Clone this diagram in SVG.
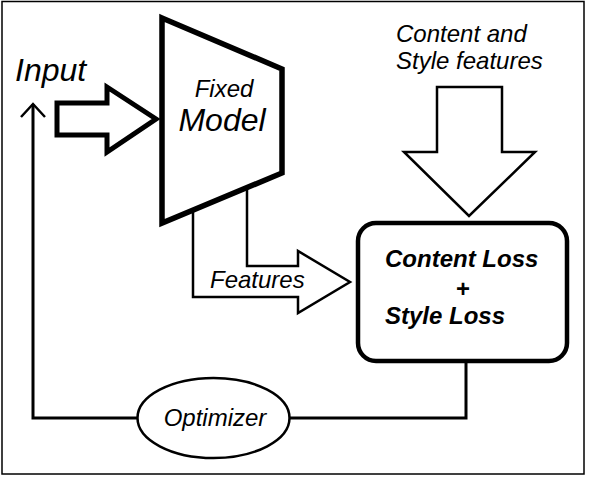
<svg xmlns="http://www.w3.org/2000/svg" width="606" height="488" viewBox="0 0 606 488">
<style>
.t{font-family:"Liberation Sans",Arial,sans-serif;font-style:italic;fill:#000;}
.ln{fill:none;stroke:#000;stroke-width:3;stroke-linejoin:miter;}
.blk{fill:#fff;stroke:#000;stroke-linejoin:miter;}
</style>
<rect width="606" height="488" fill="#fff"/>
<rect x="2" y="1.5" width="582" height="472.5" fill="none" stroke="#000" stroke-width="1.5"/>
<g id="connectors">
<polyline class="ln" points="466,362 466,418 290,418"/>
<polyline class="ln" points="137,418 33,418 33,104"/>
<polyline fill="none" stroke="#000" stroke-width="2.5" points="21,117 33,104 45,117"/>
<path class="blk" stroke-width="2.5" d="M193,210 L193,297 L298,297 L298,313 L350,282 L298,251 L298,266 L247,266 L247,188"/>
</g>
<g id="input">
<text class="t" x="15" y="81" font-size="32">Input</text>
<polygon class="blk" stroke-width="5" points="57,103 107,103 107,87 156,119 107,152 107,135 57,135"/>
</g>
<g id="model">
<polygon class="blk" stroke-width="5.5" points="162,18 282,69 282,173 162,223"/>
<text class="t" x="224" y="97" font-size="24" text-anchor="middle">Fixed</text>
<text class="t" x="222" y="131" font-size="32" text-anchor="middle">Model</text>
</g>
<g id="features">
<text class="t" x="210" y="288" font-size="24">Features</text>
</g>
<g id="style-input">
<text class="t" x="396" y="42" font-size="24">Content and</text>
<text class="t" x="396" y="69" font-size="24">Style features</text>
<polygon class="blk" stroke-width="2.5" points="437,87 502,87 502,152 535,152 469,216 404,152 437,152"/>
</g>
<g id="loss">
<rect class="blk" stroke-width="4.5" x="358" y="223" width="209" height="138" rx="18" ry="18"/>
<text class="t" x="385" y="267" font-size="24" font-weight="bold">Content Loss</text>
<text class="t" x="463" y="297" font-size="24" font-weight="bold" text-anchor="middle" style="font-style:normal">+</text>
<text class="t" x="385" y="324" font-size="24" font-weight="bold">Style Loss</text>
</g>
<g id="optimizer">
<ellipse class="blk" stroke-width="2.5" cx="213.5" cy="418" rx="76" ry="40"/>
<text class="t" x="215" y="426" font-size="24" text-anchor="middle">Optimizer</text>
</g>
</svg>
